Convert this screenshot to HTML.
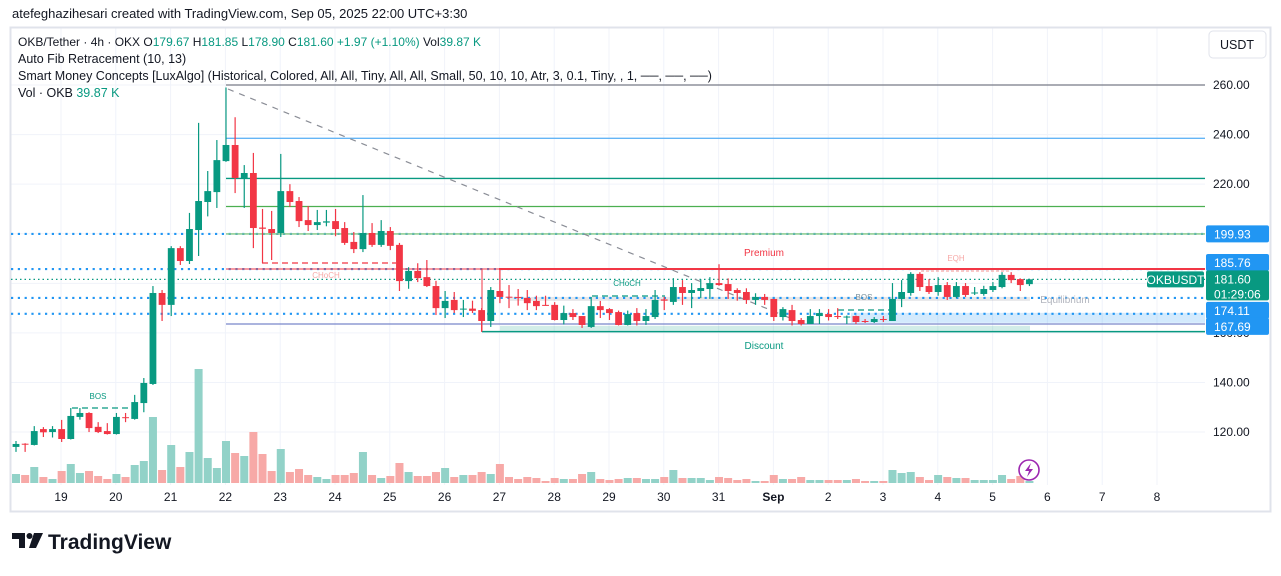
<!DOCTYPE html>
<html><head><meta charset="utf-8">
<style>
html,body{margin:0;padding:0;background:#fff;}
body{width:1281px;height:571px;overflow:hidden;position:relative;font-family:"Liberation Sans",sans-serif;}
svg text{font-family:"Liberation Sans",sans-serif;}
</style></head>
<body>
<svg id="chart" width="1281" height="571" viewBox="0 0 1281 571" xmlns="http://www.w3.org/2000/svg">
  <g id="grid"></g>
  <rect x="10.5" y="27.5" width="1260" height="484" fill="none" stroke="#e0e3eb" stroke-width="2"/>
  <g id="overlays"></g>
  <g id="volumes"></g>
  <g id="candles"></g>
  <g id="axes"></g>
  <text x="12" y="18" font-size="13" fill="#131722">atefeghazihesari created with TradingView.com, Sep 05, 2025 22:00 UTC+3:30</text>
  <g font-size="12.5" fill="#131722">
    <text x="18" y="46" font-size="12">OKB/Tether · 4h · OKX  O<tspan fill="#089981">179.67</tspan>  H<tspan fill="#089981">181.85</tspan>  L<tspan fill="#089981">178.90</tspan>  C<tspan fill="#089981">181.60</tspan>  <tspan fill="#089981">+1.97 (+1.10%)</tspan>  Vol<tspan fill="#089981">39.87 K</tspan></text>
    <text x="18" y="63">Auto Fib Retracement (10, 13)</text>
    <text x="18" y="80">Smart Money Concepts [LuxAlgo] (Historical, Colored, All, All, Tiny, All, All, Small, 50, 10, 10, Atr, 3, 0.1, Tiny, , 1, ──, ──, ──)</text>
    <text x="18" y="97">Vol · OKB  <tspan fill="#089981">39.87 K</tspan></text>
  </g>
  <g>
    <rect x="1209" y="31" width="57" height="27" rx="4" fill="#fff" stroke="#e0e3eb"/>
    <text x="1237" y="49" font-size="12.5" fill="#131722" text-anchor="middle">USDT</text>
  </g>
  <g>
    <circle cx="1029" cy="470" r="10" fill="#fff" stroke="#9c27b0" stroke-width="1.6"/>
    <path d="M1031 463 L1025 471 L1029 471 L1027 477 L1033 469 L1029 469 Z" fill="#9c27b0"/>
  </g>
  <g>
    <path d="M12 533 h13 v15 h-6 v-9 h-7 z" fill="#131722"/>
    <circle cx="29.5" cy="536" r="3" fill="#131722"/>
    <path d="M34 533 h9 l-7 15 h-7 z" fill="#131722"/>
    <text x="48" y="549" font-size="21" font-weight="bold" fill="#131722">TradingView</text>
  </g>
</svg>
<script>
const opens=[114.0,115.3,114.8,121.2,120.0,121.2,117.2,126.1,127.7,122.1,120.4,119.2,126.0,125.3,131.7,139.4,176.1,171.3,194.2,189.0,201.5,212.8,216.8,229.3,235.8,222.5,224.5,202.5,201.9,200.3,217.2,213.2,205.5,203.5,204.5,205.1,202.3,196.7,193.8,200.3,195.5,201.1,195.5,180.9,185.0,182.5,178.9,170.0,173.3,169.5,169.8,169.2,164.8,176.9,174.6,174.5,174.1,172.9,171.3,171.3,165.2,168.0,166.8,162.4,170.8,169.6,168.4,163.2,168.0,164.8,166.4,173.5,172.5,178.5,176.1,176.9,177.7,180.1,179.7,177.3,176.5,173.3,174.5,173.7,166.4,169.2,165.2,163.6,166.8,167.6,166.8,166.4,166.8,164.8,164.4,165.6,164.8,173.7,176.1,183.8,178.9,176.5,179.3,174.5,178.9,176.0,175.7,177.3,178.5,183.4,181.7,179.67];
const highs=[116.4,115.5,122.4,122.0,122.4,124.9,129.7,129.7,128.0,124.0,123.6,127.7,127.7,135.0,141.8,178.9,177.3,195.0,195.0,208.4,244.7,225.3,237.8,259.0,247.0,227.7,232.6,210.0,209.2,232.2,220.0,214.8,211.2,209.6,209.6,210.0,204.7,200.7,215.6,204.3,205.5,202.7,196.3,186.5,188.1,189.4,181.0,176.9,176.5,173.3,173.0,170.0,178.5,185.8,179.3,177.7,177.3,175.0,175.0,172.4,171.0,169.6,166.8,174.5,172.9,170.0,169.0,169.0,170.0,169.6,177.3,174.5,182.1,181.3,180.1,181.7,182.5,187.7,182.0,178.0,178.0,176.0,175.7,173.7,170.4,171.3,166.0,169.6,169.6,169.6,170.0,167.0,167.0,165.6,166.4,166.8,180.1,181.3,184.5,184.5,181.7,182.5,180.5,180.5,180.1,178.5,179.0,180.5,184.5,184.5,182.0,181.85];
const lows=[112.0,112.0,114.6,118.0,117.8,116.0,117.0,125.0,120.0,119.6,119.0,119.0,124.0,125.0,128.0,139.0,164.8,166.8,187.4,187.8,191.0,207.0,210.4,229.0,216.4,210.4,194.2,188.2,189.4,198.7,210.8,202.7,201.1,201.5,203.0,199.0,195.5,192.2,192.6,194.7,194.7,193.4,176.9,177.8,180.5,178.5,167.2,166.0,168.0,166.4,168.0,160.4,162.4,172.0,170.0,171.0,169.2,169.2,171.0,165.0,163.4,165.2,162.0,162.0,166.0,165.2,163.0,163.0,163.0,163.2,165.6,169.2,171.3,171.3,170.0,174.0,173.7,179.0,173.7,173.0,171.7,171.3,171.3,164.8,165.0,163.0,163.0,163.6,163.6,165.0,165.6,163.6,163.6,164.0,164.0,164.4,164.8,170.4,175.0,176.9,175.7,175.0,173.3,174.0,174.5,175.3,175.0,176.5,178.0,180.1,176.9,178.9];
const closes=[115.2,115.0,120.4,119.9,121.2,117.2,126.5,127.7,121.6,120.0,119.2,126.1,125.6,132.1,139.8,176.1,171.3,194.2,189.0,201.9,213.2,217.2,229.7,235.8,222.5,224.5,202.3,202.0,200.3,217.2,212.8,205.1,203.5,204.7,205.0,201.9,196.3,193.8,200.3,195.5,201.1,195.1,180.9,185.0,182.1,178.9,170.0,172.9,169.2,169.8,168.9,164.8,177.3,174.5,174.3,174.1,172.0,170.8,171.0,165.2,168.0,166.4,163.2,170.8,169.2,168.0,163.2,167.6,164.8,166.8,173.3,173.0,178.5,176.1,177.3,178.1,180.1,179.3,176.9,176.1,173.3,174.5,173.3,166.4,169.6,164.8,163.6,166.8,168.0,166.4,166.6,166.6,164.4,164.6,165.6,165.4,173.7,176.5,183.8,178.5,176.5,179.3,174.5,178.9,175.3,176.3,177.7,178.9,183.4,181.3,179.3,181.6];
const volumes=[180,160,320,120,80,240,380,200,240,140,80,180,120,360,440,1320,260,760,320,620,2280,500,300,840,600,540,1020,580,240,680,220,280,160,120,80,160,160,200,620,160,100,140,400,220,140,140,220,300,120,160,160,220,180,380,120,80,120,100,40,100,80,80,180,220,80,60,80,100,100,80,80,120,260,100,100,100,60,120,100,60,80,40,40,160,80,80,120,60,60,60,60,60,80,40,40,40,260,200,220,120,60,160,120,100,100,60,60,60,160,80,140,39.87];
const dateLabels=["19","20","21","22","23","24","25","26","27","28","29","30","31","Sep","2","3","4","5","6","7","8"];
const priceTicks=[260,240,220,200,180,160,140,120];
const priceTickLabels=["260.00","240.00","220.00","200.00","180.00","160.00","140.00","120.00"];
const fibLevels=[260,238.5,222.3,211.0,199.93];
const fibColors=["#787b86","#64b5f6","#089981","#4caf50","#81c784"];
const markerPrices=[199.93,185.76,174.11,167.69];
const lastPrice=181.60;

const NS="http://www.w3.org/2000/svg";
const X0=16, STEP=9.13, DAY0=61, DAYW=54.8, PR=1205, VBASE=483;
const xC=i=>X0+i*STEP;
const xDay=d=>DAY0+d*DAYW;
const yP=p=>85+(260-p)*2.479;
const yV=v=>VBASE-v/20;
function mk(tag,attrs,parent){const e=document.createElementNS(NS,tag);for(const k in attrs)e.setAttribute(k,attrs[k]);parent.appendChild(e);return e;}

const grid=document.getElementById('grid');
priceTicks.forEach(p=>{mk('line',{x1:11,x2:PR,y1:yP(p),y2:yP(p),stroke:'#f0f3fa','stroke-width':1},grid);});
dateLabels.forEach((d,i)=>{mk('line',{x1:xDay(i),x2:xDay(i),y1:28,y2:485,stroke:'#f0f3fa','stroke-width':1},grid);});

const ov=document.getElementById('overlays');
function ln(x1,y1,x2,y2,st,w,dash,name){const e=mk('line',{x1:x1,y1:y1,x2:x2,y2:y2,stroke:st,'stroke-width':w},ov);if(dash)e.setAttribute('stroke-dasharray',dash);

return e;}
function rc(x,y,w,h,f,name){const e=mk('rect',{x:x,y:y,width:w,height:h,fill:f},ov);

return e;}
function tx(x,y,s,c,size,name,anchor){const e=mk('text',{x:x,y:y,fill:c,'font-size':size,'text-anchor':anchor||'middle'},ov);e.textContent=s;

return e;}

rc(851,yP(167.69)-1,PR-851,10,'rgba(33,150,243,0.2)','demand-zone');
rc(500,yP(167.69)+12,530,5,'rgba(8,153,129,0.18)','discount-zone');
rc(510,yP(174.11)-1,520,4,'rgba(120,123,134,0.18)','equilibrium-zone');
markerPrices.forEach(p=>{ln(11,yP(p),PR,yP(p),'#2196f3',2.2,'2.2 4.6','price-level-line');});
fibLevels.forEach((p,k)=>{ln(226,yP(p),PR,yP(p),fibColors[k],1.3,null,'fib-level');});
ln(226,yP(185.76),500,yP(185.76),'#f23645',1,null,'choch-level');
ln(499,yP(185.76),PR,yP(185.76),'#f23645',2,null,'premium-top-line');
ln(482,yP(185.76),482,yP(160.5),'#f23645',1,null,'range-left-edge');
ln(226,yP(163.6),PR,yP(163.6),'#7986cb',1.3,null,'fib-bottom-level');
ln(482,yP(160.5),PR,yP(160.5),'#089981',1.5,null,'discount-bottom-line');
ln(11,yP(lastPrice),PR,yP(lastPrice),'#089981',1.3,'1.5 3','last-price-line');
ln(228,89,790,318,'#8a8d96',1.2,'6 6','fib-trend-line');
ln(262,263,396,263,'#f23645',1.2,'6 4','choch-dashed-line');
ln(72,408,136,408,'#089981',1.2,'6 4','bos-dashed-line');
ln(592,296,665,296,'#089981',1.2,'6 4','choch-dashed-line-2');
ln(838,310,890,310,'#089981',1.2,'6 4','bos-dashed-line-2');
ln(921,271,1010,271,'#f7a9a7',1.2,'3 2','eqh-line');
tx(326,278,'CHoCH','#f7a9a7',8,'choch-label');
tx(627,286,'CHoCH','#089981',8,'choch-label-2');
tx(98,399,'BOS','#089981',8,'bos-label');
tx(864,300,'BOS','#78909c',8,'bos-label-2');
tx(956,261,'EQH','#f7a9a7',8,'eqh-label');
tx(764,256,'Premium','#f23645',10,'premium-label');
tx(764,349,'Discount','#089981',10,'discount-label');
tx(1065,303,'Equilibrium','#b2b5be',10,'equilibrium-label');

const vg=document.getElementById('volumes');
volumes.forEach((v,i)=>{const up=closes[i]>=opens[i];
 const r=mk('rect',{x:xC(i)-4,y:yV(v),width:8,height:VBASE-yV(v),fill:up?'#92d2c8':'#f7a9a7'},vg);
 
 });

const cg=document.getElementById('candles');
opens.forEach((o,i)=>{const c=closes[i],up=c>=o,col=up?'#089981':'#f23645',x=xC(i);
 const g=mk('g',{},cg);
 
 
 mk('line',{x1:x,x2:x,y1:yP(highs[i]),y2:yP(lows[i]),stroke:col,'stroke-width':1.2},g);
 const top=yP(Math.max(o,c)),bot=yP(Math.min(o,c));
 mk('rect',{x:x-3.4,y:top,width:6.8,height:Math.max(1,bot-top),fill:col},g);});

const ax=document.getElementById('axes');
dateLabels.forEach((d,i)=>{const t=mk('text',{x:xDay(i),y:501,'font-size':12,fill:'#131722','text-anchor':'middle','font-weight':d==='Sep'?'bold':'normal'},ax);t.textContent=d;
 
 });
priceTicks.forEach((p,k)=>{if(p===200||p===180)return;const t=mk('text',{x:1213,y:yP(p)+4,'font-size':12,fill:'#131722'},ax);t.textContent=priceTickLabels[k];
 
 });
function badge(y,h,fill,lines,name){const g=mk('g',{},ax);
 
 
 mk('rect',{x:1206,y:y,width:63,height:h,rx:2,fill:fill},g);
 lines.forEach((s,k)=>{const t=mk('text',{x:1214,y:y+13+k*15,'font-size':12,fill:'#fff'},g);t.textContent=s;});}
badge(yP(199.93)-8.5,17,'#2196f3',['199.93'],'price-badge-199');
badge(yP(185.76)-15,17,'#2196f3',['185.76'],'price-badge-185');
badge(yP(lastPrice)-9,30,'#089981',['181.60','01:29:06'],'last-price-badge');
badge(yP(174.11)+4,17,'#2196f3',['174.11'],'price-badge-174');
badge(yP(167.69)+4,17,'#2196f3',['167.69'],'price-badge-167');
const sg=mk('g',{},ax);


mk('rect',{x:1147,y:yP(lastPrice)-8,width:57,height:16,rx:2,fill:'#089981'},sg);
const st=mk('text',{x:1175.5,y:yP(lastPrice)+4.5,'font-size':12,fill:'#fff','text-anchor':'middle'},sg);st.textContent='OKBUSDT';
</script>
</body></html>
